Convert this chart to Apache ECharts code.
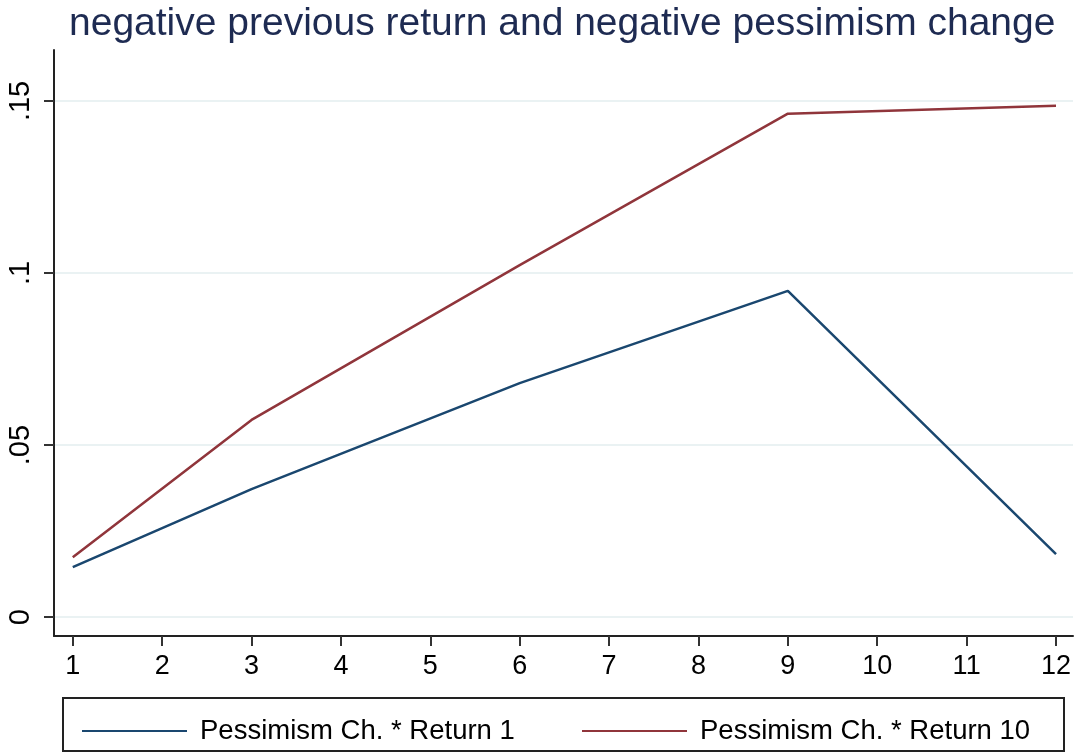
<!DOCTYPE html>
<html>
<head>
<meta charset="utf-8">
<script src="https://cdn.jsdelivr.net/npm/echarts@6/dist/echarts.min.js"></script>
<style>
  html, body { margin: 0; padding: 0; background: #fff; }
  #chart { width: 1077px; height: 753px; }
</style>
</head>
<body>
<div id="chart"></div>
<script>
// horizon (months) where the coefficients were estimated
const horizons = [1, 3, 6, 9, 12];
const return1 = [0.0145, 0.0372, 0.068, 0.0948, 0.0183];
const return10 = [0.0174, 0.0573, 0.1023, 0.1463, 0.1486];
const xTicks = [1, 2, 3, 4, 5, 6, 7, 8, 9, 10, 11, 12];
const yTicks = [0, 0.05, 0.1, 0.15];
const seriesNames = ["Pessimism Ch. * Return 1", "Pessimism Ch. * Return 10"];
const colors = ["#1a476f", "#90353b"];

const font = "'Liberation Sans', Arial, Helvetica, sans-serif";

function pairs(vals) {
  return horizons.map((h, i) => [h, vals[i]]);
}

let chart = echarts.init(document.getElementById("chart"), null, { renderer: "canvas" });
let option = {
  animation: false,
  title: {
    text: "negative previous return and negative pessimism change",
    left: 64,
    top: 0,
    textStyle: { color: "#1e2b52", fontSize: 39, fontWeight: "normal", fontFamily: font },
  },
  grid: { left: 54, right: 4, top: 50, bottom: 117 },
  xAxis: {
    type: "value",
    min: 0.79,
    max: 12.19,
    axisLine: { onZero: false, lineStyle: { color: "#222", width: 2 } },
    axisTick: { customValues: xTicks, length: 10, lineStyle: { color: "#333", width: 2 } },
    axisLabel: {
      customValues: xTicks,
      margin: 17,
      color: "#000",
      fontSize: 27,
      fontFamily: font,
    },
    splitLine: { show: false },
  },
  yAxis: {
    type: "value",
    min: -0.0055,
    max: 0.1648,
    axisLine: { show: true, lineStyle: { color: "#222", width: 2 } },
    axisTick: { show: true, customValues: yTicks, length: 10, lineStyle: { color: "#333", width: 2 } },
    axisLabel: {
      customValues: yTicks,
      rotate: 90,
      margin: 19,
      color: "#000",
      fontSize: 29,
      fontFamily: font,
      formatter: (v) => (v === 0 ? "0" : String(v).replace(/^0/, "")),
    },
    splitLine: { show: true, lineStyle: { color: "#eaf2f3", width: 2 } },
  },
  legend: [
    {
      data: [seriesNames[0]],
      left: 77,
      top: 712,
      icon: "rect",
      itemWidth: 105,
      itemHeight: 2,
      textStyle: { fontSize: 27.5, color: "#000", fontFamily: font, padding: [0, 0, 0, 8] },
    },
    {
      data: [seriesNames[1]],
      left: 577,
      top: 712,
      icon: "rect",
      itemWidth: 105,
      itemHeight: 2,
      textStyle: { fontSize: 27.5, color: "#000", fontFamily: font, padding: [0, 0, 0, 8] },
    },
  ],
  graphic: [
    {
      type: "rect",
      shape: { x: 63, y: 698, width: 1001, height: 53 },
      style: { fill: "none", stroke: "#222", lineWidth: 2 },
      silent: true,
    },
  ],
  series: [
    {
      name: seriesNames[0],
      type: "line",
      data: pairs(return1),
      symbol: "none",
      lineStyle: { color: colors[0], width: 2.5 },
      itemStyle: { color: colors[0] },
    },
    {
      name: seriesNames[1],
      type: "line",
      data: pairs(return10),
      symbol: "none",
      lineStyle: { color: colors[1], width: 2.5 },
      itemStyle: { color: colors[1] },
    },
  ],
};
chart.setOption(option);
</script>
</body>
</html>
